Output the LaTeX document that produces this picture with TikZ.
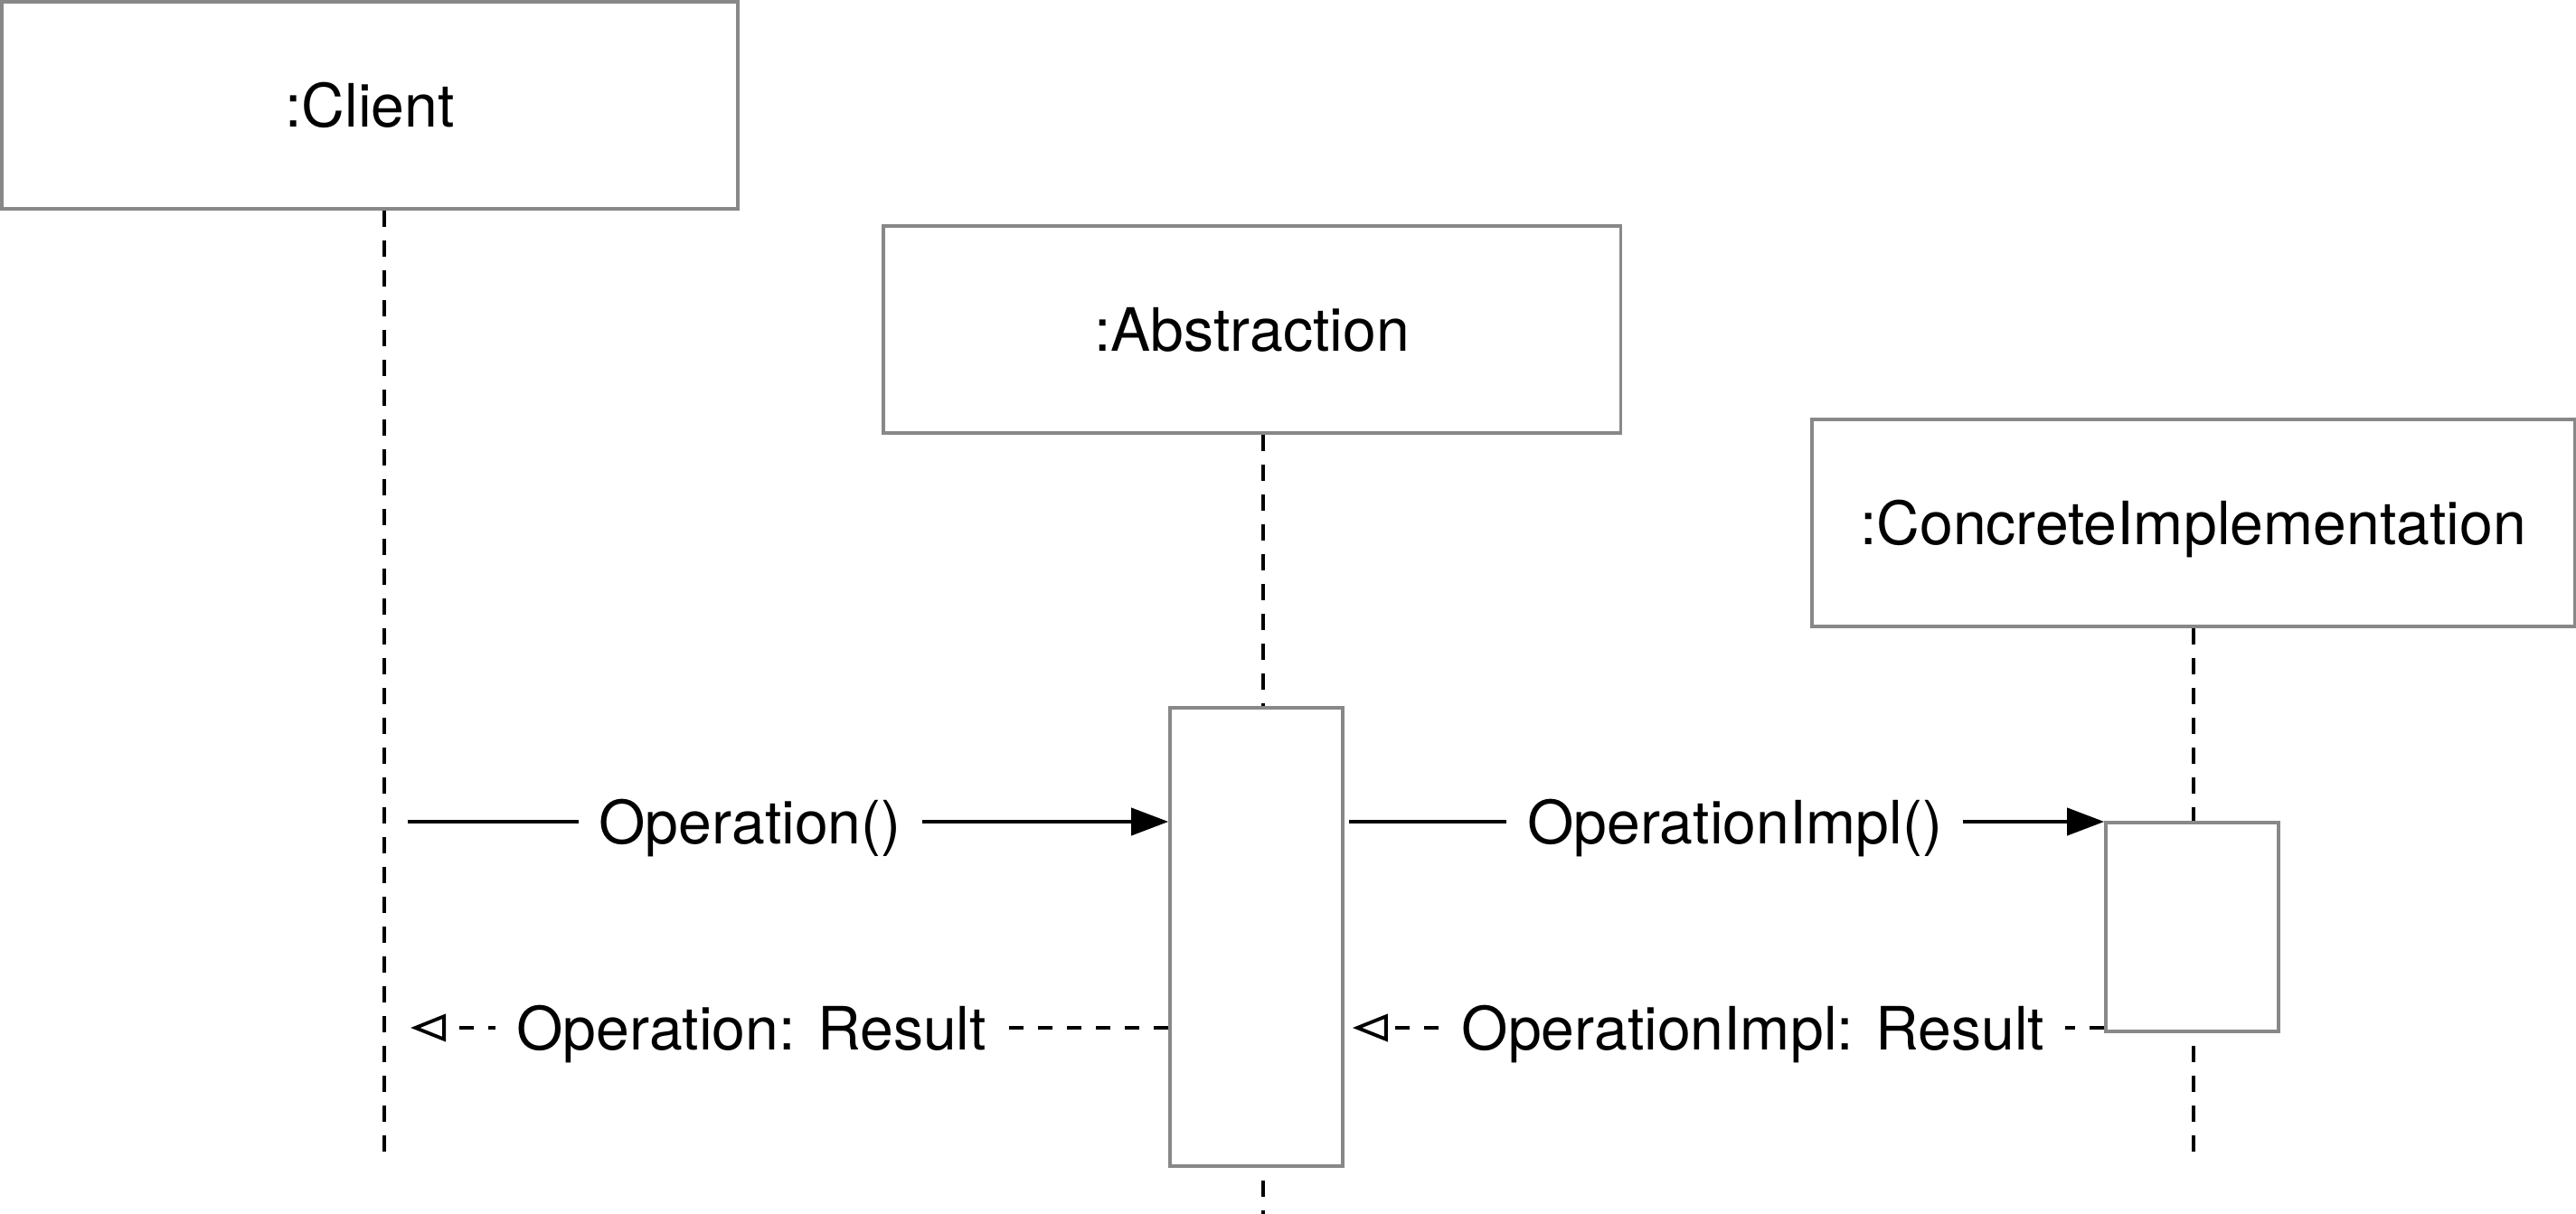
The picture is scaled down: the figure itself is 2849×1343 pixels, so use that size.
\documentclass[tikz,border=0pt]{standalone}
\usepackage{fontspec}
\setmainfont{TeX Gyre Heros}
\usetikzlibrary{arrows.meta}
\definecolor{boxgrey}{HTML}{888888}
\tikzstyle{object} = [rectangle, draw=boxgrey, line width=1pt, minimum height=2.29cm, text height=0.48cm, text depth=0pt, inner sep=0pt, font=\fontsize{18.8}{22}\selectfont]
\tikzstyle{activation} = [rectangle, draw=boxgrey, fill=white, line width=1pt, minimum width=1.91cm, inner sep=0pt]
\tikzstyle{lifeline} = [line width=1.1pt, dash pattern=on 0.18cm off 0.15cm]
\tikzstyle{callarrow} = [line width=1.1pt, -{Triangle[length=0.41cm, width=0.30cm]}]
\tikzstyle{replyarrow} = [line width=1.1pt, dash pattern=on 0.16cm off 0.16cm, -{Triangle[open, length=0.39cm, width=0.30cm]}]
\tikzstyle{msg} = [fill=white, text height=0.48cm, text depth=0pt, inner xsep=0.23cm, inner ysep=0.1cm, font=\fontsize{18.8}{22}\selectfont]

\begin{document}
\begin{tikzpicture}[x=0.01cm, y=-0.01cm]
    \useasboundingbox (0,0) rectangle (2849,1343);

    % objects
    \node (client) [object, minimum width=8.14cm] at (409,116.5) {:Client};
    \node (abstraction) [object, minimum width=8.15cm] at (1384.5,364.5) {:Abstraction};
    \node (concrete) [object, minimum width=8.43cm] at (2425.5,578.5) {:ConcreteImplementation};

    % lifelines
    \coordinate (clientend) at (425,1281);
    \coordinate (abstractionend) at (1397,1343);
    \coordinate (concreteend) at (2426,1277);
    \draw [lifeline] (client.south -| clientend) -- (clientend);
    \draw [lifeline] (abstraction.south -| abstractionend) -- (abstractionend);
    \draw [lifeline] (concrete.south -| concreteend) -- (concreteend);

    % activations
    \node (actA) [activation, minimum height=5.07cm] at (1389.5,1036.5) {};
    \node (actC) [activation, minimum height=2.31cm] at (2424.5,1025.5) {};

    % messages
    \coordinate (opstart) at (451,909);
    \coordinate (resend) at (454,1137);
    \draw [callarrow] (opstart) -- (opstart -| actA.west) node [msg, pos=0.45] {Operation()};
    \draw [callarrow, shorten <=0.05cm] (opstart -| actA.east) -- (opstart -| actC.west) node [msg, pos=0.514] {OperationImpl()};
    \draw [replyarrow] (resend -| actA.west) -- (resend) node [msg, pos=0.55] {Operation: Result};
    \draw [replyarrow, shorten >=0.09cm] (resend -| actC.west) -- (resend -| actA.east) node [msg, pos=0.462] {OperationImpl: Result};
\end{tikzpicture}
\end{document}
